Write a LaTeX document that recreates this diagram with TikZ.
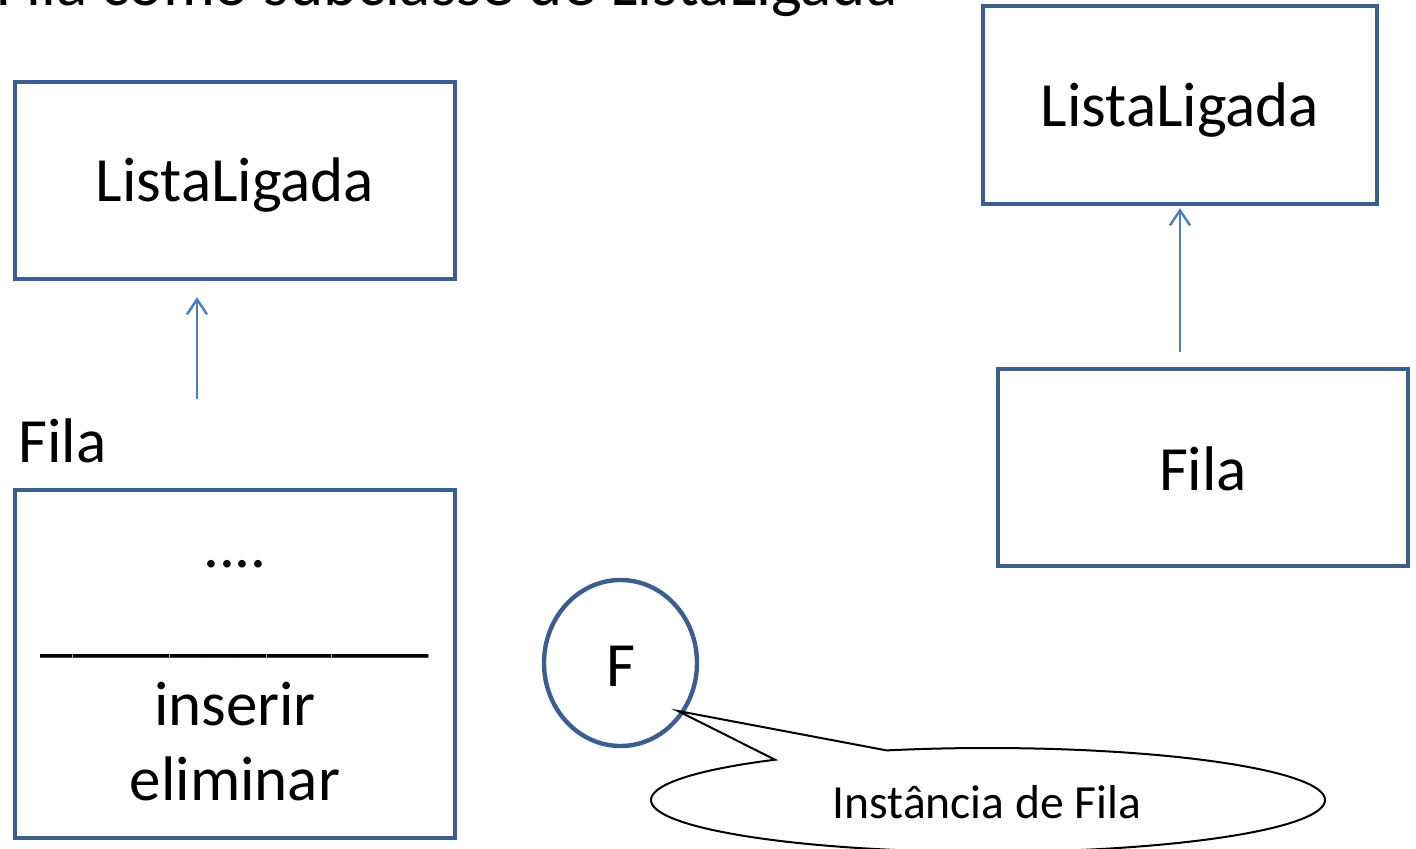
\documentclass[tikz,border=0pt]{standalone}
\usepackage{fontspec}
\setmainfont{Carlito}
\usetikzlibrary{arrows.meta,shapes.geometric,calc}
\definecolor{boxblue}{HTML}{3B5E8C}
\definecolor{arrblue}{HTML}{4A7EBB}
\begin{document}
\begin{tikzpicture}[x=0.5pt,y=-0.5pt,
  classbox/.style={draw=boxblue,line width=2.2pt,rectangle,inner sep=0pt},
  big/.style={font=\fontsize{31.5pt}{37pt}\selectfont,inner sep=0pt,anchor=base},
  small/.style={font=\fontsize{23.8pt}{28pt}\selectfont,inner sep=0pt,anchor=base},
  inh/.style={draw=arrblue,line width=1.2pt,-{Straight Barb[length=7.5pt,width=10pt,line width=1.2pt]}},
  callout/.style={draw=black,line width=1pt,fill=white}]
\useasboundingbox (0,0) rectangle (1416,849);
\clip (0,0) rectangle (1416,849);
% title (cut off at the top, as in the original)
\node[font=\fontsize{32.5pt}{38pt}\selectfont,inner sep=0pt,anchor=base west] (title) at (-4,6) {Fila como subclasse de ListaLigada};
% left class diagram
\node[classbox,minimum width=220pt,minimum height=98.5pt] (L1) at (235,180.5) {};
\node[big] (L1t) at (235,202) {ListaLigada};
\node[big,anchor=base west] (F1lab) at (18,462) {Fila};
\node[classbox,minimum width=220pt,minimum height=174pt] (F1) at (235,664) {};
\node[big] (F1dots) at (235,567) {....};
\node[big,font=\fontsize{32.5pt}{38pt}\selectfont] (F1line) at (235,649) {\_\_\_\_\_\_\_\_\_\_\_\_};
\node[big] (F1ins) at (235,725) {inserir};
\node[big] (F1eli) at (235,800) {eliminar};
\coordinate (a1s) at (197,399);
\draw[inh] (a1s) -- ([yshift=-8pt]L1.south -| a1s);
% right class diagram
\node[classbox,minimum width=197pt,minimum height=99pt] (L2) at (1180,105) {};
\node[big] (L2t) at (1180,127) {ListaLigada};
\node[classbox,minimum width=205pt,minimum height=98.5pt] (F2) at (1203,467.5) {};
\node[big] (F2t) at (1203,490) {Fila};
\draw[inh] ([yshift=7.5pt]F2.north -| L2.south) -- ([yshift=-1pt]L2.south);
% instance
\node[draw=boxblue,line width=2.2pt,ellipse,minimum width=76.5pt,minimum height=83pt,inner sep=0pt] (inst) at (620.5,663) {};
\node[big] (instF) at (621,686) {F};
% callout
\coordinate (tip) at (678,711);
\coordinate (cc) at (988,800);
\draw[callout] (tip) -- ([shift={(129.2:168.5pt and 26pt)}]cc)
  arc[start angle=129.2,end angle=467.5,x radius=168.5pt,y radius=26pt] -- cycle;
\node[small] (calltext) at (987,818) {Instância de Fila};
\end{tikzpicture}
\end{document}
